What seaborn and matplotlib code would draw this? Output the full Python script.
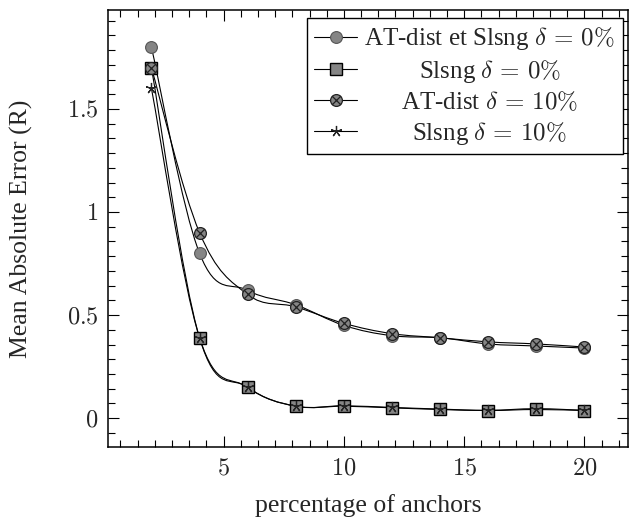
import numpy as np
import pandas as pd
import seaborn as sns
import matplotlib
matplotlib.use('Agg')
import matplotlib.pyplot as plt
import matplotlib.ticker as ticker
from matplotlib.path import Path
from matplotlib.patches import PathPatch
from matplotlib.lines import Line2D

# percentage of anchors
anchors = [2, 4, 6, 8, 10, 12, 14, 16, 18, 20]

# mean absolute error per method
mae_atdist_slsng_0 = [1.80, 0.80, 0.62, 0.55, 0.45, 0.40, 0.39, 0.36, 0.35, 0.34]
mae_slsng_0 = [1.70, 0.39, 0.15, 0.058, 0.058, 0.05, 0.042, 0.037, 0.042, 0.037]
mae_atdist_10 = [1.70, 0.90, 0.60, 0.54, 0.46, 0.41, 0.39, 0.37, 0.36, 0.345]
mae_slsng_10 = [1.60, 0.39, 0.15, 0.058, 0.06, 0.052, 0.044, 0.038, 0.046, 0.038]

labels = [r'AT-dist et Slsng $\delta\,=\,0\%$',
          r'Slsng $\delta\,=\,0\%$',
          r'AT-dist $\delta\,=\,10\%$',
          r'Slsng $\delta\,=\,10\%$']

sns.set_style('white')
plt.rcParams['font.family'] = ['Liberation Serif', 'DejaVu Serif']
plt.rcParams['mathtext.fontset'] = 'cm'

GRAY = '#858585'

# circle with a cross inside (pgfplots "otimes")
_c = Path.unit_circle()
_k = 0.7071
_x = Path([(-_k, -_k), (_k, _k), (-_k, _k), (_k, -_k)],
          [Path.MOVETO, Path.LINETO, Path.MOVETO, Path.LINETO])
otimes = Path.make_compound_path(_c, _x)

styles = [
    dict(marker='o', markersize=8.5, markerfacecolor=GRAY, markeredgecolor='#555555', markeredgewidth=0.8),
    dict(marker='s', markersize=8.5, markerfacecolor=GRAY, markeredgecolor='black', markeredgewidth=1.0),
    dict(marker=otimes, markersize=8.5, markerfacecolor=GRAY, markeredgecolor='#222222', markeredgewidth=0.9),
    dict(marker=(5, 2, 0), markersize=8, markerfacecolor='none', markeredgecolor='#222222', markeredgewidth=0.9),
]


def smooth_path(xs, ys, tension=0.18):
    """Bezier path through the points, like TikZ 'smooth'."""
    pts = np.column_stack([xs, ys]).astype(float)
    n = len(pts)
    verts = [pts[0]]
    codes = [Path.MOVETO]
    for i in range(n - 1):
        p0 = pts[i - 1] if i > 0 else pts[i]
        p1 = pts[i]
        p2 = pts[i + 1]
        p3 = pts[i + 2] if i + 2 < n else pts[i + 1]
        verts += [p1 + tension * (p2 - p0), p2 - tension * (p3 - p1), p2]
        codes += [Path.CURVE4] * 3
    return Path(verts, codes)


fig = plt.figure(figsize=(6.36, 5.19), dpi=100)
ax = fig.add_axes([0.170, 0.1387, 0.817, 0.8420])

series = [mae_atdist_slsng_0, mae_slsng_0, mae_atdist_10, mae_slsng_10]
for vals, st in zip(series, styles):
    df = pd.DataFrame({'x': anchors, 'y': vals})
    ax.add_patch(PathPatch(smooth_path(df['x'], df['y']), facecolor='none',
                           edgecolor='black', lw=0.8, transform=ax.transData))
    sns.lineplot(data=df, x='x', y='y', ax=ax, estimator=None, sort=False,
                 linestyle='none', legend=False, **st)

ax.set_xlim(0.2, 21.8)
ax.set_ylim(-0.14, 1.98)

ax.xaxis.set_major_locator(ticker.MultipleLocator(5))
ax.xaxis.set_minor_locator(ticker.MultipleLocator(5 / 7))
ax.yaxis.set_major_locator(ticker.MultipleLocator(0.5))
ax.yaxis.set_minor_locator(ticker.MultipleLocator(0.5 / 7))
fmt = ticker.FuncFormatter(lambda v, p: f'${v:g}$')
ax.xaxis.set_major_formatter(fmt)
ax.yaxis.set_major_formatter(fmt)

ax.tick_params(which='both', direction='in', top=True, right=True,
               bottom=True, left=True, color='black', width=0.8, labelsize=17.5)
ax.tick_params(which='major', length=8)
ax.tick_params(which='minor', length=5)
ax.tick_params(axis='x', which='major', pad=8)
ax.tick_params(axis='y', which='major', pad=7)

for sp in ax.spines.values():
    sp.set_visible(True)
    sp.set_color('black')
    sp.set_linewidth(1.1)

ax.set_xlabel('percentage of anchors', fontsize=18.5, labelpad=11)
ax.set_ylabel('Mean Absolute Error (R)', fontsize=18.5, labelpad=24)

handles = [Line2D([], [], color='black', lw=0.8, **st) for st in styles]
leg = ax.legend(handles, labels, loc='upper right', bbox_to_anchor=(0.99, 0.982),
                borderaxespad=0, fontsize=18, frameon=True, fancybox=False,
                edgecolor='black', framealpha=1, handlelength=1.7,
                handletextpad=0.3, labelspacing=0.22, borderpad=0.3)
leg.get_frame().set_linewidth(1.0)

# center the legend texts like pgfplots does
fig.canvas.draw()
widths = [t.get_window_extent().width for t in leg.get_texts()]
wmax = max(widths)
for t, w in zip(leg.get_texts(), widths):
    t.set_x((wmax - w) / 2)

fig.savefig('out.png', dpi=100)
